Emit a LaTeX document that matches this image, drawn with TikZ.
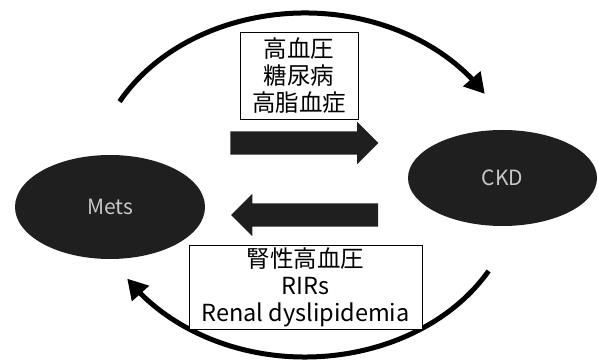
\documentclass[tikz,border=0pt]{standalone}
\usepackage{fontspec}
\setmainfont{Noto Sans CJK JP}
\usetikzlibrary{calc,shapes.geometric,shapes.arrows,arrows.meta,bending}
\tikzset{
  blob/.style={ellipse,fill=black!88,inner sep=0pt,text=black!22,font=\fontsize{21}{21}\selectfont},
  infobox/.style={draw,fill=white,line width=0.9pt,inner sep=0pt,align=center,font=\fontsize{23.5}{27}\selectfont},
  fatarrow/.style={single arrow,fill=black!88,inner xsep=0pt,inner ysep=11.5pt,single arrow head extend=9.5pt},
  cyclearc/.style={line width=5pt,-{Triangle[length=20pt,width=22pt,flex]}}
}
\begin{document}
\begin{tikzpicture}[x=1pt,y=1pt]
  \useasboundingbox (0,0) rectangle (598,361);
  \coordinate (topstart) at ($(305,176)+(151:212 and 172)$);
  \coordinate (botstart) at ($(305,176)+(-30:212 and 172)$);
  \draw[cyclearc] (topstart) arc[start angle=151,end angle=32,x radius=212,y radius=172];
  \draw[cyclearc] (botstart) arc[start angle=-30,end angle=-147,x radius=212,y radius=172];

  \node[blob,minimum width=190pt,minimum height=104pt] (mets) at (110,154) {Mets};
  \node[blob,minimum width=189pt,minimum height=96pt] (ckd) at (502.5,183) {CKD};

  \node[infobox,minimum width=118pt,minimum height=87pt] (risk) at (299,285.5) {高血圧\\糖尿病\\高脂血症};
  \node[infobox,minimum width=233pt,minimum height=84pt] (renal) at (305.5,74) {腎性高血圧\\RIRs\\Renal dyslipidemia};

  \node[fatarrow,minimum height=148pt] (tockd) at (298.5,218) {};
  \node[fatarrow,minimum height=147pt,shape border rotate=180] (tomets) at (310.5,146) {};
\end{tikzpicture}
\end{document}
